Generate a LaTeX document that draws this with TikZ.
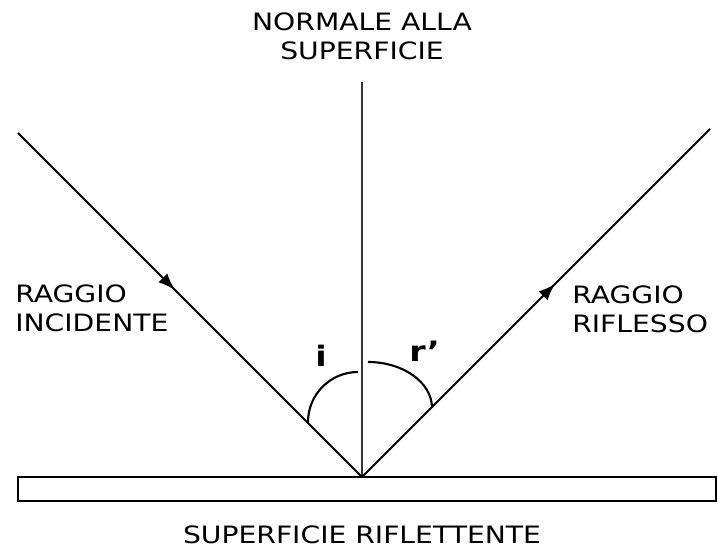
\documentclass[tikz,border=0pt]{standalone}
\usepackage{fontspec}
\setmainfont{DejaVu Sans}[FakeStretch=1.18]
\usetikzlibrary{arrows.meta,decorations.markings}
\tikzset{
  ray/.style={line width=1.5pt},
  midarrow/.style={postaction={decorate},decoration={markings,
    mark=at position #1 with {\arrow{Latex[length=12pt,width=9pt]}}}},
  txt/.style={font=\fontsize{17}{21}\selectfont, inner sep=0pt},
  anglbl/.style={font=\fontsize{20}{24}\selectfont\bfseries, inner sep=0pt}
}
\begin{document}
\begin{tikzpicture}[x=0.025cm,y=-0.025cm]
\useasboundingbox (0,0) rectangle (718,550);
\node[draw,line width=1.5pt,minimum width=17.45cm,minimum height=0.6cm] (surface) at (367,489) {};
\coordinate (hit) at (362,477);
\coordinate (src) at (18,133);
\coordinate (dst) at (710,129);
\coordinate (top) at (362,82);

\draw[ray,black!80] (hit)--(top);
\draw[ray,midarrow=0.456] (src)--(hit);
\draw[ray,midarrow=0.555] (hit)--(dst);
\draw[ray] (308,422) arc[start angle=180,end angle=270,radius=50];
\draw[ray] (368,362) arc[start angle=-90,end angle=0,x radius=64,y radius=46];

\node[txt,align=center,anchor=base] (normal) at (362,60) {NORMALE ALLA\\SUPERFICIE};
\node[txt,align=left,anchor=base west] (incident) at (15,332) {RAGGIO\\INCIDENTE};
\node[txt,align=left,anchor=base west] (reflected) at (572,333) {RAGGIO\\RIFLESSO};
\node[txt,anchor=base] (surflabel) at (362,543) {SUPERFICIE RIFLETTENTE};
\node[anglbl,anchor=base] (ilabel) at (321,367) {i};
\node[anglbl,anchor=base west] (rlabel) at (409,362) {r’};
\end{tikzpicture}
\end{document}
